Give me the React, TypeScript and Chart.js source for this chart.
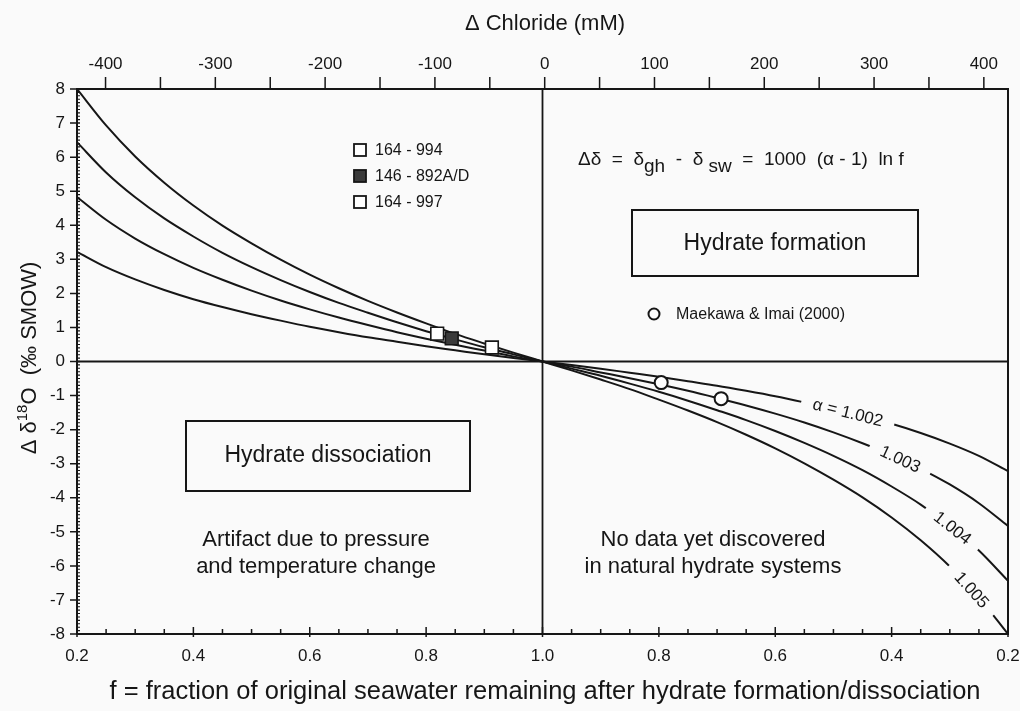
import React, { useEffect, useRef } from "react";
import { Chart, registerables } from "chart.js";

Chart.register(...registerables);

// ---------- data ----------
// sample points of f (fraction of original seawater remaining)
const fSamples = [0.2, 0.25, 0.3, 0.35, 0.4, 0.45, 0.5, 0.55, 0.6, 0.65, 0.7, 0.75, 0.8, 0.85, 0.9, 0.95, 1.0];

// hydrate dissociation side (left half), Δδ18O (‰)
const dissoc1002 = [3.22, 2.77, 2.41, 2.10, 1.83, 1.60, 1.39, 1.20, 1.02, 0.86, 0.71, 0.58, 0.45, 0.33, 0.21, 0.10, 0];
const dissoc1003 = [4.83, 4.16, 3.61, 3.15, 2.75, 2.40, 2.08, 1.79, 1.53, 1.29, 1.07, 0.86, 0.67, 0.49, 0.32, 0.15, 0];
const dissoc1004 = [6.44, 5.55, 4.82, 4.20, 3.67, 3.19, 2.77, 2.39, 2.04, 1.72, 1.43, 1.15, 0.89, 0.65, 0.42, 0.21, 0];
const dissoc1005 = [8.0, 6.93, 6.02, 5.25, 4.58, 3.99, 3.47, 2.99, 2.55, 2.15, 1.78, 1.44, 1.12, 0.81, 0.53, 0.26, 0];

// hydrate formation side (right half), Δδ18O (‰)
const form1002 = [-3.22, -2.77, -2.41, -2.10, -1.83, -1.60, -1.39, -1.20, -1.02, -0.86, -0.71, -0.58, -0.45, -0.33, -0.21, -0.10, 0];
const form1003 = [-4.83, -4.16, -3.61, -3.15, -2.75, -2.40, -2.08, -1.79, -1.53, -1.29, -1.07, -0.86, -0.67, -0.49, -0.32, -0.15, 0];
const form1004 = [-6.44, -5.55, -4.82, -4.20, -3.67, -3.19, -2.77, -2.39, -2.04, -1.72, -1.43, -1.15, -0.89, -0.65, -0.42, -0.21, 0];
const form1005 = [-8.0, -6.93, -6.02, -5.25, -4.58, -3.99, -3.47, -2.99, -2.55, -2.15, -1.78, -1.44, -1.12, -0.81, -0.53, -0.26, 0];

// curve labels on the formation side
const alphaLabels = ["α = 1.002", "1.003", "1.004", "1.005"];
const alphaLabelF = [0.475, 0.385, 0.295, 0.262];
const alphaLabelY = [-1.49, -2.86, -4.88, -6.70];

// ODP sites (dissociation side)
const odpSites = ["164 - 994", "146 - 892A/D", "164 - 997"];
const odpF = [0.819, 0.844, 0.913];
const odpD18O = [0.82, 0.68, 0.41];
const odpFilled = [false, true, false];

// Maekawa & Imai (2000) (formation side)
const maekawaLabel = "Maekawa & Imai (2000)";
const maekawaF = [0.796, 0.693];
const maekawaD18O = [-0.62, -1.09];

// axes
const bottomTickLabels = ["0.2", "0.4", "0.6", "0.8", "1.0", "0.8", "0.6", "0.4", "0.2"];
const chlorideTicks = [-400, -350, -300, -250, -200, -150, -100, -50, 0, 50, 100, 150, 200, 250, 300, 350, 400];
const chlorideLabels = ["-400", "", "-300", "", "-200", "", "-100", "", "0", "", "100", "", "200", "", "300", "", "400"];
const yTicks = [8, 7, 6, 5, 4, 3, 2, 1, 0, -1, -2, -3, -4, -5, -6, -7, -8];

// ---------- style ----------
const FONT = '"Liberation Sans", Arial, Helvetica, sans-serif';
const INK = "#161616";
const BG = "#fafafa";

export default function App() {
  const canvasRef = useRef<HTMLCanvasElement | null>(null);

  useEffect(() => {
    const canvas = canvasRef.current;
    if (!canvas) return;

    // position along the mirrored f axis: left half 0.2 -> 1.0, right half 1.0 -> 0.2
    const uLeft = (f: number) => f - 0.2;
    const uRight = (f: number) => 1.8 - f;

    const curve = (vals: number[], right: boolean) =>
      fSamples
        .map((f, i) => ({ x: right ? uRight(f) : uLeft(f), y: vals[i] }))
        .sort((a, b) => a.x - b.x);

    const lineDs = (vals: number[], right: boolean) => ({
      type: "line" as const,
      data: curve(vals, right),
      borderColor: INK,
      borderWidth: 2,
      pointRadius: 0,
      cubicInterpolationMode: "monotone" as const,
      fill: false,
      order: 2,
    });

    const datasets: any[] = [
      lineDs(dissoc1002, false),
      lineDs(dissoc1003, false),
      lineDs(dissoc1004, false),
      lineDs(dissoc1005, false),
      lineDs(form1002, true),
      lineDs(form1003, true),
      lineDs(form1004, true),
      lineDs(form1005, true),
      {
        type: "line",
        data: odpF.map((f, i) => ({ x: uLeft(f), y: odpD18O[i] })),
        showLine: false,
        pointStyle: "rect",
        pointRadius: 9,
        pointBackgroundColor: odpFilled.map((b) => (b ? "#3a3a3a" : "#ffffff")),
        pointBorderColor: INK,
        pointBorderWidth: 1.6,
        order: 0,
      },
      {
        type: "line",
        data: maekawaF.map((f, i) => ({ x: uRight(f), y: maekawaD18O[i] })),
        showLine: false,
        pointStyle: "circle",
        pointRadius: 6.5,
        pointBackgroundColor: "#ffffff",
        pointBorderColor: INK,
        pointBorderWidth: 2,
        order: 0,
      },
    ];

    const setFont = (ctx: CanvasRenderingContext2D, size: number) => {
      ctx.font = `${size}px ${FONT}`;
    };

    const drawPieces = (
      ctx: CanvasRenderingContext2D,
      pieces: { t: string; s: number; dy?: number }[],
      x: number,
      y: number,
      center: boolean
    ) => {
      let total = 0;
      for (const p of pieces) {
        setFont(ctx, p.s);
        total += ctx.measureText(p.t).width;
      }
      let cx = center ? x - total / 2 : x;
      ctx.textAlign = "left";
      ctx.textBaseline = "alphabetic";
      for (const p of pieces) {
        setFont(ctx, p.s);
        ctx.fillText(p.t, cx, y + (p.dy || 0));
        cx += ctx.measureText(p.t).width;
      }
    };

    const decor = {
      id: "decor",
      beforeDraw(chart: any) {
        const ctx = chart.ctx as CanvasRenderingContext2D;
        ctx.save();
        ctx.fillStyle = BG;
        ctx.fillRect(0, 0, chart.width, chart.height);
        ctx.restore();
      },
      beforeDatasetsDraw(chart: any) {
        const ctx = chart.ctx as CanvasRenderingContext2D;
        const a = chart.chartArea;
        const xs = chart.scales.x;
        const ys = chart.scales.y;
        ctx.save();
        ctx.strokeStyle = INK;
        ctx.lineWidth = 1.8;
        const y0 = ys.getPixelForValue(0);
        const xc = xs.getPixelForValue(0.8);
        ctx.beginPath();
        ctx.moveTo(a.left, y0);
        ctx.lineTo(a.right, y0);
        ctx.moveTo(xc, a.top);
        ctx.lineTo(xc, a.bottom);
        ctx.stroke();

        // annotation boxes
        ctx.lineWidth = 2;
        ctx.strokeRect(632, 210, 286, 66);
        ctx.strokeRect(186, 421, 284, 70);
        ctx.restore();
      },
      afterDatasetsDraw(chart: any) {
        const ctx = chart.ctx as CanvasRenderingContext2D;
        const a = chart.chartArea;
        const xs = chart.scales.x;
        const x2 = chart.scales.x2;
        const ys = chart.scales.y;
        ctx.save();
        ctx.fillStyle = INK;
        ctx.strokeStyle = INK;

        // curve labels with gaps in the curves
        const angles = [14, 25, 38, 48];
        alphaLabels.forEach((t, i) => {
          const px = xs.getPixelForValue(uRight(alphaLabelF[i]));
          const py = ys.getPixelForValue(alphaLabelY[i]);
          ctx.save();
          ctx.translate(px, py);
          ctx.rotate((angles[i] * Math.PI) / 180);
          setFont(ctx, 17);
          const w = ctx.measureText(t).width;
          ctx.fillStyle = BG;
          ctx.fillRect(-w / 2 - 12, -11, w + 24, 22);
          ctx.fillStyle = INK;
          ctx.textAlign = "center";
          ctx.textBaseline = "middle";
          ctx.fillText(t, 0, 1);
          ctx.restore();
        });

        // frame
        ctx.lineWidth = 2;
        ctx.strokeRect(a.left, a.top, a.right - a.left, a.bottom - a.top);

        // ticks
        ctx.lineWidth = 1.5;
        ctx.beginPath();
        xs.ticks.forEach((t: any, i: number) => {
          const px = xs.getPixelForValue(t.value);
          const major = i % 4 === 0;
          ctx.moveTo(px, a.bottom + (major ? 3 : 0));
          ctx.lineTo(px, a.bottom - (major ? 7 : 5));
        });
        x2.ticks.forEach((t: any) => {
          const px = x2.getPixelForValue(t.value);
          ctx.moveTo(px, a.top);
          ctx.lineTo(px, a.top - 12);
        });
        ys.ticks.forEach((t: any) => {
          const py = ys.getPixelForValue(t.value);
          ctx.moveTo(a.left - 7, py);
          ctx.lineTo(a.left + 3, py);
        });
        ctx.stroke();
        ctx.lineWidth = 1.1;
        ctx.beginPath();
        for (let k = -80; k <= 80; k++) {
          if (k % 10 === 0) continue;
          const py = ys.getPixelForValue(k * 0.1);
          ctx.moveTo(a.left - 1, py);
          ctx.lineTo(a.left + 3, py);
        }
        ctx.stroke();

        // axis titles
        ctx.textAlign = "center";
        ctx.textBaseline = "middle";
        setFont(ctx, 22);
        ctx.fillText("Δ Chloride (mM)", 545, 24);
        setFont(ctx, 25.5);
        ctx.fillText(
          "f = fraction of original seawater remaining after hydrate formation/dissociation",
          545,
          692
        );
        ctx.save();
        ctx.translate(28, 358);
        ctx.rotate(-Math.PI / 2);
        drawPieces(
          ctx,
          [
            { t: "Δ δ", s: 22 },
            { t: "18", s: 15, dy: -9 },
            { t: "O  (‰ SMOW)", s: 22 },
          ],
          0,
          8,
          true
        );
        ctx.restore();

        // formula
        drawPieces(
          ctx,
          [
            { t: "Δδ  =  δ", s: 19 },
            { t: "gh", s: 19, dy: 7 },
            { t: "  -  δ ", s: 19 },
            { t: "sw", s: 19, dy: 7 },
            { t: "  =  1000  (α - 1)  ln f", s: 19 },
          ],
          578,
          165,
          false
        );

        // box texts
        ctx.textAlign = "center";
        ctx.textBaseline = "middle";
        setFont(ctx, 23);
        ctx.fillText("Hydrate formation", 775, 244);
        ctx.fillText("Hydrate dissociation", 328, 456);

        setFont(ctx, 22);
        ctx.fillText("Artifact due to pressure", 316, 540);
        ctx.fillText("and temperature change", 316, 567);
        ctx.fillText("No data yet discovered", 713, 540);
        ctx.fillText("in natural hydrate systems", 713, 567);

        // ODP legend
        ctx.textAlign = "left";
        setFont(ctx, 16);
        const legY = [150, 176, 202];
        odpSites.forEach((s, i) => {
          ctx.fillStyle = odpFilled[i] ? "#3a3a3a" : "#ffffff";
          ctx.fillRect(354, legY[i] - 6, 12, 12);
          ctx.strokeStyle = INK;
          ctx.lineWidth = 1.8;
          ctx.strokeRect(354, legY[i] - 6, 12, 12);
          ctx.fillStyle = INK;
          ctx.fillText(s, 375, legY[i] + 1);
        });

        // Maekawa legend
        ctx.beginPath();
        ctx.arc(654, 314, 5.5, 0, Math.PI * 2);
        ctx.fillStyle = "#ffffff";
        ctx.fill();
        ctx.lineWidth = 2;
        ctx.stroke();
        ctx.fillStyle = INK;
        setFont(ctx, 16);
        ctx.fillText(maekawaLabel, 676, 315);

        ctx.restore();
      },
    };

    const tickFont = { family: FONT, size: 17 };
    const noPad = (s: any) => {
      s.paddingLeft = 0;
      s.paddingRight = 0;
      s.paddingTop = 0;
      s.paddingBottom = 0;
    };

    const chart = new Chart(canvas, {
      type: "line",
      data: { datasets },
      options: {
        animation: false,
        responsive: true,
        maintainAspectRatio: false,
        layout: { padding: { left: 0, right: 12, top: 0, bottom: 0 } },
        plugins: { legend: { display: false }, tooltip: { enabled: false } },
        scales: {
          x: {
            type: "linear",
            position: "bottom",
            min: 0,
            max: 1.6,
            afterFit: (s: any) => {
              s.height = 77;
              noPad(s);
            },
            afterBuildTicks: (s: any) => {
              s.ticks = Array.from({ length: 33 }, (_, i) => ({ value: i * 0.05 }));
            },
            grid: { display: false, drawTicks: false },
            border: { display: false },
            ticks: {
              autoSkip: false,
              maxRotation: 0,
              padding: 12,
              color: INK,
              font: tickFont,
              callback: (_v: any, i: number) => (i % 4 === 0 ? bottomTickLabels[i / 4] : ""),
            },
          },
          x2: {
            type: "linear",
            position: "top",
            min: -426,
            max: 422,
            afterFit: (s: any) => {
              s.height = 89;
              noPad(s);
            },
            afterBuildTicks: (s: any) => {
              s.ticks = chlorideTicks.map((v) => ({ value: v }));
            },
            grid: { display: false, drawTicks: false },
            border: { display: false },
            ticks: {
              autoSkip: false,
              maxRotation: 0,
              padding: 14,
              color: INK,
              font: tickFont,
              callback: (_v: any, i: number) => chlorideLabels[i],
            },
          },
          y: {
            type: "linear",
            min: -8,
            max: 8,
            afterFit: (s: any) => {
              s.width = 77;
              noPad(s);
            },
            afterBuildTicks: (s: any) => {
              s.ticks = yTicks.map((v) => ({ value: v }));
            },
            grid: { display: false, drawTicks: false },
            border: { display: false },
            ticks: {
              autoSkip: false,
              padding: 12,
              color: INK,
              font: tickFont,
              callback: (v: any) => String(v),
            },
          },
        },
      },
      plugins: [decor],
    } as any);

    return () => chart.destroy();
  }, []);

  return (
    <div style={{ position: "absolute", left: 0, top: 0, width: 1020, height: 711 }}>
      <canvas ref={canvasRef} />
    </div>
  );
}
